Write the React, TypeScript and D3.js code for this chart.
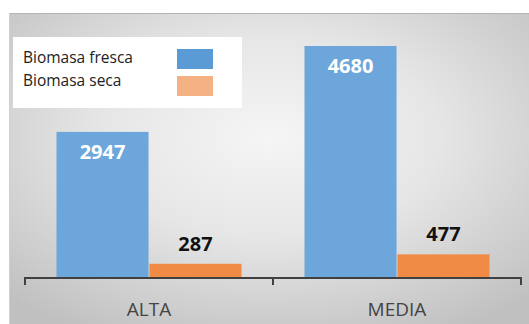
import React from "react";
import * as d3 from "d3";

const categories = ["ALTA", "MEDIA"];
const seriesNames = ["Biomasa fresca", "Biomasa seca"];
const fresca = [2947, 4680];
const seca = [287, 477];

const W = 529;
const H = 324;
const barColors = ["#6da6db", "#ef8b45"];
const swatchColors = ["#5b9bd5", "#f4b183"];
const FONT = "'Open Sans', 'Noto Sans', sans-serif";

export default function App() {
  const axisY = 278;
  const x0 = d3
    .scaleBand<string>()
    .domain(categories)
    .range([25, 521])
    .paddingInner(0.254)
    .paddingOuter(0.127);
  const x1 = d3
    .scaleBand<string>()
    .domain(seriesNames)
    .range([0, x0.bandwidth()])
    .paddingInner(0.01);
  const y = d3.scaleLinear().domain([0, 4680]).range([axisY, 46]);
  const values = [fresca, seca];
  const step = x0.step();

  return (
    <div style={{ position: "fixed", left: 0, top: 0 }}>
      <svg width={W} height={H} style={{ display: "block" }}>
        <defs>
          <radialGradient id="bg" cx="50%" cy="40%" r="72%">
            <stop offset="0%" stopColor="#f5f5f5" />
            <stop offset="45%" stopColor="#e6e6e6" />
            <stop offset="100%" stopColor="#c0c0c0" />
          </radialGradient>
        </defs>
        <rect x={0} y={0} width={W} height={H} fill="#ffffff" />
        <rect x={9} y={13} width={W - 9} height={H - 13} fill="url(#bg)" />
        <line x1={9} x2={W} y1={13.5} y2={13.5} stroke="#b4b4b4" strokeWidth={1.2} />
        <line x1={9.5} x2={9.5} y1={13} y2={H} stroke="#cfcfcf" strokeWidth={1} />

        {categories.map((c, ci) => (
          <g key={c}>
            {seriesNames.map((s, si) => {
              const v = values[si][ci];
              const bx = (x0(c) ?? 0) + (x1(s) ?? 0);
              const bw = x1.bandwidth();
              const top = y(v);
              const cx = bx + bw / 2;
              return (
                <g key={s}>
                  <rect
                    x={bx}
                    y={top}
                    width={bw}
                    height={axisY - top}
                    fill={barColors[si]}
                  />
                  {si === 0 ? (
                    <text
                      x={cx}
                      y={top + 27}
                      textAnchor="middle"
                      fontFamily={FONT}
                      fontWeight={700}
                      fontSize={20}
                      fill="#ffffff"
                    >
                      {v}
                    </text>
                  ) : (
                    <text
                      x={cx}
                      y={top - 13}
                      textAnchor="middle"
                      fontFamily={FONT}
                      fontWeight={700}
                      fontSize={20}
                      fill="#111111"
                    >
                      {v}
                    </text>
                  )}
                </g>
              );
            })}
            <text
              x={(x0(c) ?? 0) + x0.bandwidth() / 2}
              y={316}
              textAnchor="middle"
              fontFamily={FONT}
              fontSize={19}
              fill="#444444"
            >
              {c}
            </text>
          </g>
        ))}

        <line x1={25} x2={521} y1={axisY} y2={axisY} stroke="#404040" strokeWidth={2} />
        {d3.range(categories.length + 1).map((i) => {
          const tx = 25 + i * step;
          return (
            <line
              key={i}
              x1={tx}
              x2={tx}
              y1={axisY - 1}
              y2={axisY + 7}
              stroke="#404040"
              strokeWidth={2}
            />
          );
        })}

        <rect x={13} y={37} width={229} height={71} fill="#ffffff" />
        {seriesNames.map((s, i) => (
          <g key={s}>
            <text
              x={23}
              y={63 + i * 23}
              fontFamily={FONT}
              fontSize={15.5}
              fill="#222222"
            >
              {s}
            </text>
            <rect x={177} y={49 + i * 27} width={36} height={20} fill={swatchColors[i]} />
          </g>
        ))}
      </svg>
    </div>
  );
}
